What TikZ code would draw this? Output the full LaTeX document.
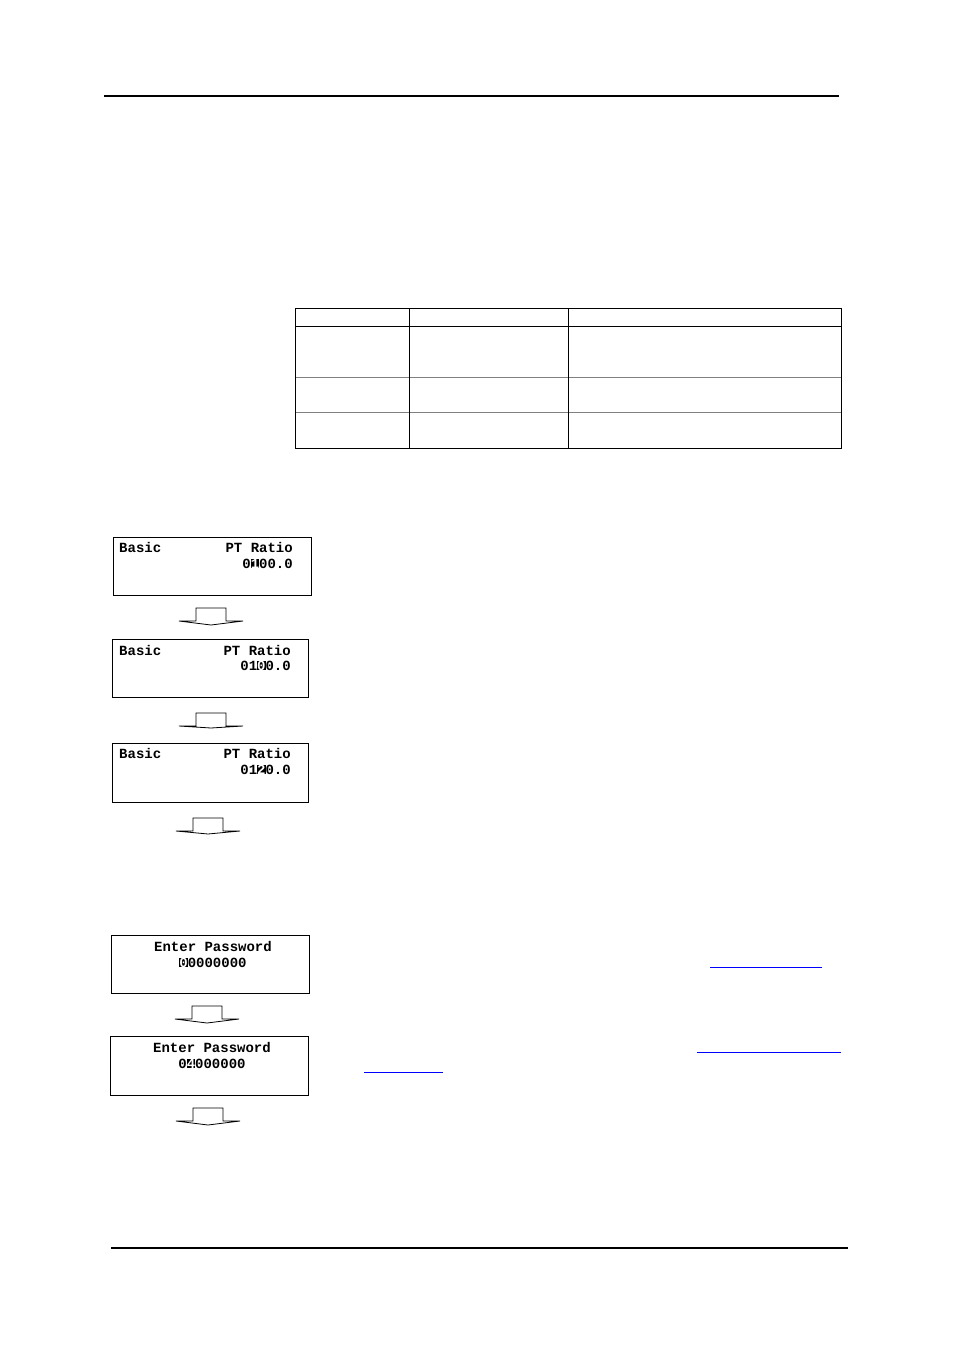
\documentclass[tikz,border=0pt]{standalone}
\usepackage{fontspec}
\setmonofont{Liberation Mono}
\usepackage{tikz}
\definecolor{rowgray}{HTML}{808080}
\definecolor{linkblue}{HTML}{0000FF}
\newcommand\lcdfont{\ttfamily\bfseries\fontsize{14}{14}\selectfont}
\newcommand\cur[1]{{\setlength\fboxsep{0pt}\colorbox{black}{\textcolor{white}{#1}}}}
\newcommand\flowarrow[3]{%
  \draw[flow] ({#1-32},{#2+13}) -- ({#1-15},{#2+13}) -- ({#1-15},#2) -- ({#1+15},#2)
    -- ({#1+15},{#2+13}) -- ({#1+32},{#2+13}) -- (#1,{#2+#3}) -- cycle;}

\begin{document}
\begin{tikzpicture}[x=1pt,y=-1pt,every node/.style={inner sep=0pt},lcd/.style={draw, line width=1pt, anchor=north west, minimum width=197pt, minimum height=58pt},disp/.style={font=\lcdfont},flow/.style={draw, line width=0.8pt, line join=miter},rule/.style={line width=1.3pt},link/.style={linkblue, line width=1pt}]
  \useasboundingbox (0,0) rectangle (954,1351);
  \draw[rule] (104,96) -- (839,96);
  \draw[rule] (111,1248) -- (848,1248);

  \draw[rowgray, line width=0.8pt] (295,377) -- (841,377) (295,412) -- (841,412);
  \draw[line width=1pt] (295,308) rectangle (841,448) (295,326) -- (841,326) (409,308) -- (409,448) (568,308) -- (568,448);

  \node[lcd, minimum width=198pt] (lcdA) at (113,537) {};
  \node[disp, anchor=base west] (bA) at (119,552) {Basic};
  \node[disp, anchor=base east] (tA) at (293,552) {PT Ratio};
  \node[disp, anchor=base east] (vA) at (293,568) {0\cur{1}00.0};
  \flowarrow{211}{608}{17}

  \node[lcd, minimum width=196pt] (lcdB) at (112,639) {};
  \node[disp, anchor=base west] (bB) at (119,655) {Basic};
  \node[disp, anchor=base east] (tB) at (291,655) {PT Ratio};
  \node[disp, anchor=base east] (vB) at (291,670) {01\cur{0}0.0};
  \flowarrow{211}{713}{15}

  \node[lcd, minimum width=196pt, minimum height=59pt] (lcdC) at (112,743) {};
  \node[disp, anchor=base west] (bC) at (119,758) {Basic};
  \node[disp, anchor=base east] (tC) at (291,758) {PT Ratio};
  \node[disp, anchor=base east] (vC) at (291,774) {01\cur{2}0.0};
  \flowarrow{208}{818}{16}

  \node[lcd, minimum width=198pt] (lcdD) at (111,935) {};
  \node[disp, anchor=base] (tD) at (213,951) {Enter Password};
  \node[disp, anchor=base] (vD) at (213,967) {\cur{0}0000000};
  \flowarrow{207}{1006}{17}

  \node[lcd, minimum width=198pt, minimum height=59pt] (lcdE) at (110,1036) {};
  \node[disp, anchor=base] (tE) at (212,1052) {Enter Password};
  \node[disp, anchor=base] (vE) at (212,1068) {0\cur{4}000000};
  \flowarrow{208}{1108}{17}

  \draw[link] (710,967) -- (822,967);
  \draw[link] (697,1052) -- (841,1052);
  \draw[link] (364,1072) -- (443,1072);
\end{tikzpicture}
\end{document}
